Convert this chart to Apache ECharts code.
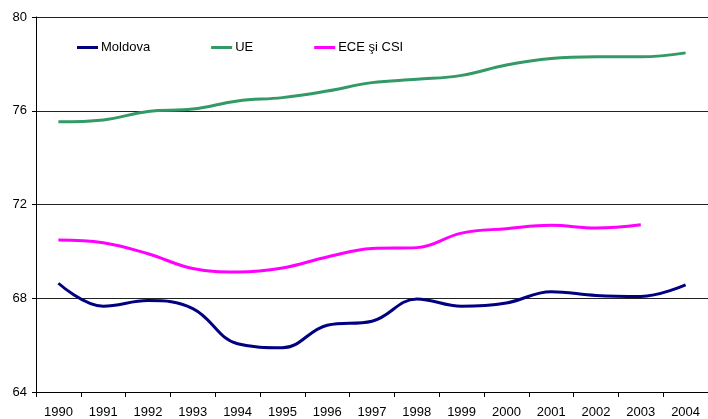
<!DOCTYPE html>
<html>
<head>
<meta charset="utf-8">
<script src="https://cdn.jsdelivr.net/npm/echarts@6/dist/echarts.min.js"></script>
<style>
    html, body { margin: 0; padding: 0; background: #fff; }
    #chart { width: 708px; height: 419px; }
</style>
</head>
<body>
<div id="chart"></div>
<script>
// ani
var years = ['1990', '1991', '1992', '1993', '1994', '1995', '1996', '1997',
    '1998', '1999', '2000', '2001', '2002', '2003', '2004'];

var moldova = [68.64, 67.66, 67.9, 67.56, 66.06, 65.89, 66.85, 67.02,
    67.97, 67.66, 67.8, 68.28, 68.12, 68.08, 68.57];

var ue = [75.53, 75.61, 75.97, 76.07, 76.42, 76.56, 76.84, 77.2,
    77.34, 77.51, 77.95, 78.23, 78.3, 78.3, 78.47];

// 2004 lipsește pentru ECE și CSI
var ece_csi = [70.49, 70.37, 69.9, 69.27, 69.12, 69.29, 69.76, 70.12,
    70.16, 70.78, 70.97, 71.11, 71.0, 71.14, null];

var y_ticks = [64, 68, 72, 76, 80];

var font = 'Liberation Sans, Arial, sans-serif';

var chart = echarts.init(document.getElementById('chart'), null, {renderer: 'canvas'});

function make_series(name, data, color) {
    return {
        name: name,
        type: 'line',
        data: data,
        smooth: 0.4,
        showSymbol: false,
        symbol: 'none',
        connectNulls: false,
        lineStyle: {
            color: color,
            width: 3
        },
        itemStyle: {
            color: color
        }
    }
}

var option = {
    animation: false,
    backgroundColor: '#fff',
    grid: {
        left: 36,
        top: 17,
        width: 677,
        height: 377,
        containLabel: false
    },
    legend: {
        left: 77,
        top: 41,
        padding: 0,
        icon: 'rect',
        itemWidth: 21,
        itemHeight: 3,
        itemGap: 61,
        textStyle: {
            fontFamily: font,
            fontSize: 13,
            color: '#000',
            padding: [0, 0, 0, -2]
        },
        data: ['Moldova', 'UE', 'ECE şi CSI']
    },
    xAxis: {
        type: 'category',
        data: years,
        boundaryGap: true,
        axisLine: {
            lineStyle: {color: '#000', width: 1}
        },
        axisTick: {
            show: true,
            length: 5,
            lineStyle: {color: '#000'}
        },
        axisLabel: {
            fontFamily: font,
            fontSize: 13,
            color: '#000',
            margin: 14
        },
        splitLine: {show: false}
    },
    yAxis: {
        type: 'value',
        min: y_ticks[0],
        max: y_ticks[y_ticks.length - 1],
        interval: 4,
        axisLine: {
            show: true,
            lineStyle: {color: '#000', width: 1}
        },
        axisTick: {
            show: true,
            length: 4,
            lineStyle: {color: '#000'}
        },
        axisLabel: {
            fontFamily: font,
            fontSize: 13,
            color: '#000',
            margin: 9
        },
        splitLine: {
            show: true,
            lineStyle: {color: '#222', width: 1}
        }
    },
    series: [
        make_series('Moldova', moldova, '#000080'),
        make_series('UE', ue, '#339966'),
        make_series('ECE şi CSI', ece_csi, '#ff00ff')
    ]
};

chart.setOption(option);
</script>
</body>
</html>
